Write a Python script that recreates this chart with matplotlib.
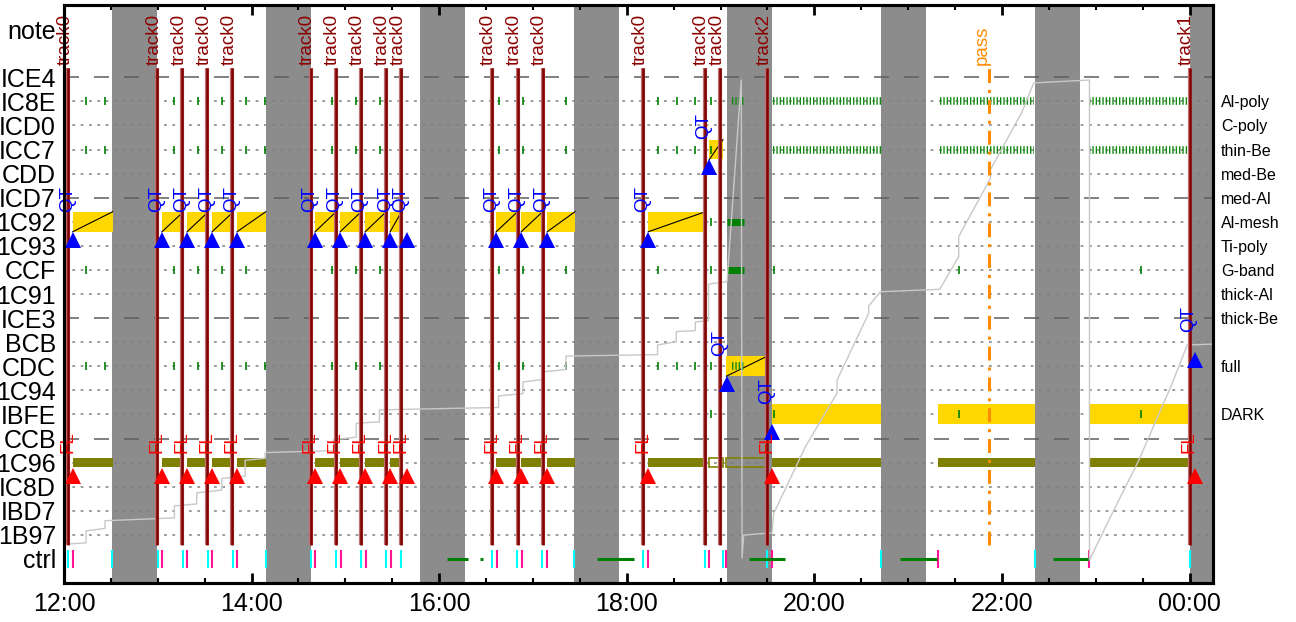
import numpy as np
import matplotlib
matplotlib.use("Agg")
from matplotlib import pyplot as plt
from matplotlib.ticker import MultipleLocator, FuncFormatter
from matplotlib.transforms import offset_copy

plt.rcParams['font.family'] = ['Liberation Sans', 'DejaVu Sans']
plt.rcParams['lines.scale_dashes'] = False

# ---- data (time in hours, 24 = midnight) ----
row_names = ['ICE4', 'IC8E', 'ICD0', 'ICC7', 'CDD', 'ICD7', '1C92', '1C93', 'CCF', '1C91',
             'ICE3', 'BCB', 'CDC', '1C94', 'IBFE', 'CCB', '1C96', 'IC8D', 'IBD7', '1B97']
right_labels = {'IC8E': 'Al-poly', 'ICD0': 'C-poly', 'ICC7': 'thin-Be', 'CDD': 'med-Be',
                'ICD7': 'med-Al', '1C92': 'Al-mesh', '1C93': 'Ti-poly', 'CCF': 'G-band',
                '1C91': 'thick-Al', 'ICE3': 'thick-Be', 'CDC': 'full', 'IBFE': 'DARK'}

night_start = [12.512, 14.151, 15.797, 17.440, 19.069, 20.715, 22.357, 24.000]
night_end = [12.989, 14.631, 16.277, 17.920, 19.549, 21.195, 22.837, 24.250]

track_t = [12.046, 12.995, 13.262, 13.529, 13.795, 14.631, 14.898, 15.165, 15.435, 15.598,
           16.565, 16.835, 17.102, 18.176, 18.830, 18.997, 19.499, 24.000]
track_name = ['track0'] * 16 + ['track2', 'track1']

obs_row = ['1C92'] * 14 + ['ICC7', 'CDC', 'IBFE', 'IBFE', 'IBFE']
obs_start = [12.021, 12.093, 13.045, 13.312, 13.579, 13.845, 14.677, 14.944, 15.211, 15.477,
             16.608, 16.875, 17.152, 18.229, 18.880, 19.061, 19.549, 21.319, 22.937]
obs_end = [12.057, 12.519, 13.273, 13.539, 13.806, 14.151, 14.901, 15.168, 15.435, 15.598,
           16.835, 17.102, 17.447, 18.837, 19.026, 19.495, 20.715, 22.357, 24.000]
obs_diag = [True] * 16 + [False] * 3
obs_hollow = [False] * 14 + [True, True] + [False] * 3

qt_t = track_t[:14] + [18.830, 18.997, 19.499, 24.000]
qt_row = ['1C92'] * 14 + ['ICC7', 'CDC', 'IBFE', 'BCB']
qt_mark = [12.093, 13.045, 13.312, 13.579, 13.845, 14.677, 14.944, 15.211, 15.477, 15.655,
           16.608, 16.875, 17.152, 18.229, 18.880, 19.069, 19.549, 24.053]

fl_t = track_t[:14] + [19.499, 24.000]
fl_mark = qt_mark[:14] + [19.549, 24.053]

tick_common = [12.235, 12.440, 13.173, 13.429, 13.685, 13.938, 14.144, 14.862, 15.115, 15.371,
               16.640, 16.889, 17.095, 17.351, 18.333, 18.531, 18.731, 18.896]
tick_ccf = [12.235, 13.173, 13.429, 13.685, 13.938, 14.862, 15.115, 15.371, 16.640, 16.889,
            17.351, 18.333, 18.896, 19.566, 21.539, 23.478]
tick_bfe = [18.896, 19.566, 21.539, 23.478]
tick_c92 = [18.896]

dense_row = ['IC8E', 'IC8E', 'IC8E', 'IC8E', 'ICC7', 'ICC7', 'ICC7', 'CDC']
dense_start = [19.122, 19.555, 21.336, 22.926, 19.555, 21.336, 22.926, 19.122]
dense_end = [19.246, 20.722, 22.339, 23.993, 20.722, 22.339, 23.993, 19.246]
solid_row = ['1C92', 'CCF']
solid_start = [19.068, 19.068]
solid_end = [19.246, 19.246]

ctrl_cyan = [12.046, 12.515, 12.999, 13.266, 13.533, 13.800, 14.155, 14.632, 14.901, 15.168,
             15.435, 15.595, 16.562, 16.829, 17.096, 17.440, 18.173, 18.830, 19.026, 19.495,
             20.715, 22.357, 24.000]
ctrl_pink = [12.100, 13.049, 13.315, 13.582, 13.849, 14.680, 14.951, 15.218, 15.485, 16.615,
             16.882, 17.149, 18.222, 18.880, 19.061, 19.549, 21.319, 22.933]
ctrl_green_start = [16.080, 16.437, 17.680, 19.300, 20.917, 22.540]
ctrl_green_end = [16.310, 16.466, 18.080, 19.690, 21.309, 22.926]

pass_t = 21.867

fill_t = [12.000, 12.235, 12.235, 12.437, 12.437, 13.177, 13.177, 13.415, 13.415, 13.682,
          13.682, 13.931, 13.931, 14.144, 14.144, 14.873, 14.873, 15.115, 15.115, 15.363,
          15.363, 16.633, 16.633, 16.893, 16.893, 17.095, 17.095, 17.351, 17.351, 18.328,
          18.328, 18.528, 18.528, 18.731, 18.731, 18.872, 18.872, 19.069, 19.221, 19.229,
          19.246, 19.549, 19.566, 19.904, 20.242, 20.242, 20.579, 20.579, 20.704, 21.336,
          21.539, 21.539, 21.877, 21.877, 22.215, 22.339, 22.933, 22.933, 23.139, 23.459,
          23.815, 23.975, 24.259]
fill_v = [3.3, 3.6, 6.1, 6.6, 8.2, 8.8, 11.3, 11.7, 14.0, 14.6,
          17.0, 17.5, 20.8, 21.2, 22.4, 22.8, 25.1, 25.6, 28.5, 28.8,
          31.3, 31.8, 34.2, 34.7, 37.1, 37.6, 39.2, 39.7, 42.5, 42.8,
          44.8, 45.5, 47.6, 47.8, 49.6, 49.9, 57.5, 58.0, 100.0, 0.4,
          5.2, 5.7, 9.7, 23.6, 34.8, 37.5, 51.4, 52.9, 55.9, 56.4,
          63.2, 67.4, 79.5, 81.3, 93.4, 99.4, 100.0, 0.0, 8.3, 20.8,
          36.8, 44.8, 45.0]

# ---- layout ----
ROW = {name: 20 - i for i, name in enumerate(row_names)}
NOTE_Y, CTRL_Y = 22, 0
FILL_ROW0, FILL_ROW100 = -0.05, 19.885

fig = plt.figure(figsize=(12.96, 6.22), dpi=100)
ax = fig.add_axes([64 / 1296, 1 - 583 / 622, 1149 / 1296, 578 / 622])
ax.set_xlim(12, 24.25)
ax.set_ylim(-1, 23)


def shifted(dx_pt, dy_pt=0):
    return offset_copy(ax.transData, fig=fig, x=dx_pt, y=dy_pt, units='points')


# orbit night bands
for s, e in zip(night_start, night_end):
    ax.axvspan(s, e, color='#8c8c8c', lw=0, zorder=0.5)

# row grid
for name, y in ROW.items():
    if y % 5 == 0:
        ax.axhline(y, color='#5e5e5e', lw=1.1, dashes=(10.8, 10.8), zorder=1)
    else:
        ax.axhline(y, color='#808080', lw=1.1, dashes=(2.0, 4.0), zorder=1)

# observation bars
for r, s, e, d, h in zip(obs_row, obs_start, obs_end, obs_diag, obs_hollow):
    y = ROW[r]
    ax.barh(y, e - s, left=s, height=0.83, color='#ffd700', lw=0, zorder=2)
    if d:
        ax.plot([s, e], [y - 0.415, y + 0.415], color='black', lw=0.8, zorder=2.5)
    yo = ROW['1C96']
    if h:
        ax.barh(yo, e - s, left=s, height=0.37, fill=False, edgecolor='#808000', lw=1.2, zorder=2)
    else:
        ax.barh(yo, e - s, left=s, height=0.37, color='#808000', lw=0, zorder=2)

# green exposure ticks
for r in ['IC8E', 'ICC7', 'CDC']:
    ax.plot(tick_common, [ROW[r]] * len(tick_common), '|', color='green', ms=5.5, mew=1.2, zorder=3)
ax.plot(tick_ccf, [ROW['CCF']] * len(tick_ccf), '|', color='green', ms=5.5, mew=1.2, zorder=3)
ax.plot(tick_bfe, [ROW['IBFE']] * len(tick_bfe), '|', color='green', ms=5.5, mew=1.2, zorder=3)
ax.plot(tick_c92, [ROW['1C92']] * len(tick_c92), '|', color='green', ms=5.5, mew=1.2, zorder=3)
for r, s, e in zip(dense_row, dense_start, dense_end):
    ax.plot([s, e], [ROW[r], ROW[r]], color='#108a10', lw=5.5, dashes=(1.0, 1.4),
            solid_capstyle='butt', dash_capstyle='butt', zorder=3)
for r, s, e in zip(solid_row, solid_start, solid_end):
    ax.plot([s, e], [ROW[r], ROW[r]], color='green', lw=5, solid_capstyle='butt', zorder=3)

# ctrl row
ax.vlines(ctrl_cyan, CTRL_Y - 0.39, CTRL_Y + 0.37, color='#00ffff', lw=1.5, zorder=3)
ax.vlines(ctrl_pink, CTRL_Y - 0.39, CTRL_Y + 0.37, color='#ff1493', lw=1.5, zorder=3)
for s, e in zip(ctrl_green_start, ctrl_green_end):
    ax.plot([s, e], [CTRL_Y, CTRL_Y], color='green', lw=2.2, solid_capstyle='butt', zorder=3)

# storage fill curve
fill_rows = FILL_ROW0 + np.array(fill_v) / 100 * (FILL_ROW100 - FILL_ROW0)
ax.plot(fill_t, fill_rows, color='#c8c8c8', lw=1.0, zorder=3.5)

# tracks
for t, name in zip(track_t, track_name):
    ax.plot([t, t], [0.58, 20.38], color='#c07070', lw=3.0, solid_capstyle='butt', zorder=4)
    ax.plot([t, t], [0.58, 20.38], color='#800000', lw=1.8, solid_capstyle='butt', zorder=4.1)
    ax.text(t, 20.5, name, transform=shifted(0.7), rotation=90, rotation_mode='anchor',
            ha='left', va='baseline', color='#8b0000', fontsize=13.5, zorder=5)

# pass
ax.plot([pass_t, pass_t], [0.58, 20.38], color='#ff8c00', lw=2.2, dashes=(10, 5, 2.2, 5), zorder=4)
ax.text(pass_t, 20.5, 'pass', transform=shifted(-2.2), rotation=90, rotation_mode='anchor',
        ha='left', va='baseline', color='#ff8c00', fontsize=13.5, zorder=5)

# QT markers
for t, r, m in zip(qt_t, qt_row, qt_mark):
    y = ROW[r]
    ax.text(t, y + 0.42, 'QT', transform=shifted(2.7), rotation=90, rotation_mode='anchor',
            ha='left', va='baseline', color='blue', fontsize=13.5, zorder=5)
    ax.plot(m, y - 0.74, '^', color='blue', ms=11, mew=0, zorder=5)

# FL markers
for t, m in zip(fl_t, fl_mark):
    ax.text(t, ROW['1C96'] + 0.4, 'FL', transform=shifted(2.9), rotation=90, rotation_mode='anchor',
            ha='left', va='baseline', color='red', fontsize=13.5, zorder=5)
    ax.plot(m, ROW['IC8D'] + 0.46, '^', color='red', ms=11, mew=0, zorder=5)

# axes styling
ax.xaxis.set_major_locator(MultipleLocator(2))
ax.xaxis.set_minor_locator(MultipleLocator(0.5))
ax.xaxis.set_major_formatter(FuncFormatter(lambda h, _: '%02d:00' % (int(round(h)) % 24)))
ax.tick_params(axis='x', which='major', direction='in', top=True, length=7.5, width=2,
               labelsize=18, pad=6.5)
ax.tick_params(axis='x', which='minor', direction='in', top=True, length=3.8, width=1.5)

yt = [NOTE_Y] + [ROW[n] for n in row_names] + [CTRL_Y]
ax.set_yticks(yt)
ax.set_yticklabels(['note'] + row_names + ['ctrl'])
ax.tick_params(axis='y', length=0, labelsize=18, pad=5.8)
for sp in ax.spines.values():
    sp.set_linewidth(2.2)

ax2 = ax.twinx()
ax2.set_ylim(ax.get_ylim())
ax2.set_yticks([ROW[n] for n in right_labels])
ax2.set_yticklabels(list(right_labels.values()))
ax2.tick_params(axis='y', length=0, labelsize=11.5, pad=5.8)
for sp in ax2.spines.values():
    sp.set_linewidth(2.2)

fig.savefig('out.png', dpi=100)
